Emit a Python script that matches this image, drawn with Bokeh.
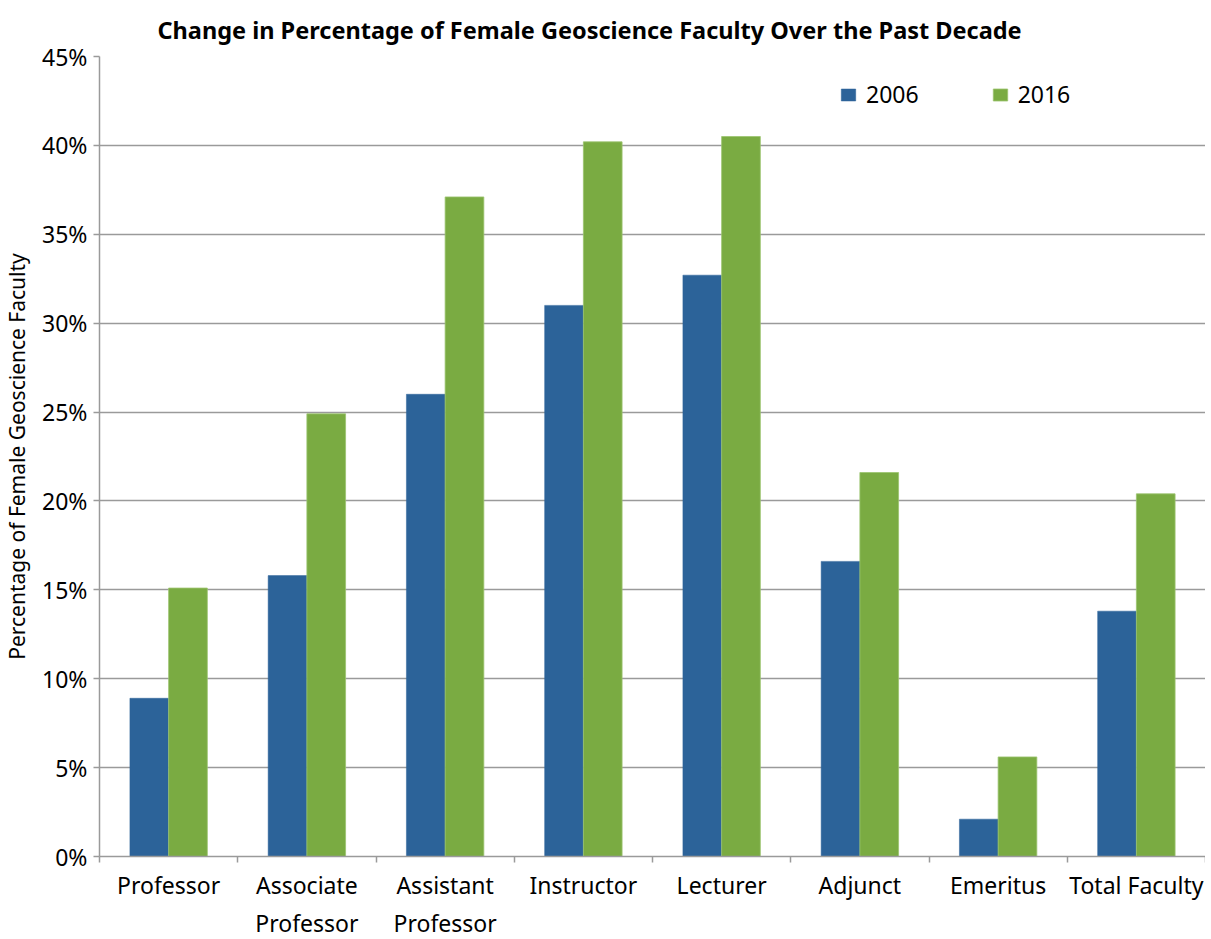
from bokeh.plotting import figure
from bokeh.models import (ColumnDataSource, Range1d, FixedTicker, LinearAxis, Title,
                          Legend, LegendItem, NumeralTickFormatter, Grid)
from bokeh.transform import dodge
from bokeh.embed import file_html
from bokeh.resources import INLINE

categories = ["Professor", "Associate\nProfessor", "Assistant\nProfessor", "Instructor",
              "Lecturer", "Adjunct", "Emeritus", "Total Faculty"]
series_names = ["2006", "2016"]
values_2006 = [8.9, 15.8, 26.0, 31.0, 32.7, 16.6, 2.1, 13.8]
values_2016 = [15.1, 24.9, 37.1, 40.2, 40.5, 21.6, 5.6, 20.4]
y_ticks = [0, 5, 10, 15, 20, 25, 30, 35, 40, 45]

BLUE = "#2C6399"
GREEN = "#7AAB42"
GRID = "#9A9A9A"
FONT = "Noto Sans"

n = len(categories)
centers = [i + 0.5 for i in range(n)]
src = ColumnDataSource(dict(x=centers, cat=categories,
                            v2006=[v / 100 for v in values_2006],
                            v2016=[v / 100 for v in values_2016]))

FH = 800
p = figure(frame_width=1106, frame_height=FH, output_backend="svg", toolbar_location=None,
           x_range=Range1d(0, n), y_range=Range1d(0, 0.45),
           min_border_left=98, min_border_top=56, min_border_right=0, min_border_bottom=2,
           x_axis_type=None, y_axis_type=None)
p.outline_line_color = None
p.background_fill_color = "white"

bw = 0.28
r1 = p.vbar(x=dodge("x", -bw / 2, range=p.x_range), top="v2006", width=bw, bottom=0,
            source=src, fill_color=BLUE, line_color=BLUE, line_width=0.5)
r2 = p.vbar(x=dodge("x", bw / 2, range=p.x_range), top="v2016", width=bw, bottom=0,
            source=src, fill_color=GREEN, line_color="#9CC46E", line_width=0.8)

# y axis
yax = LinearAxis(ticker=FixedTicker(ticks=[t / 100 for t in y_ticks]),
                 formatter=NumeralTickFormatter(format="0%"))
yax.axis_label = "Percentage of Female Geoscience Faculty"
yax.axis_label_text_font = FONT
yax.axis_label_text_font_style = "normal"
yax.axis_label_text_font_size = "21px"
yax.axis_label_text_color = "black"
yax.axis_label_standoff = 8
yax.major_label_text_font = FONT
yax.major_label_text_font_size = "23px"
yax.major_label_text_color = "black"
yax.major_label_standoff = 6
yax.major_tick_out = 6
yax.major_tick_in = 0
yax.minor_tick_out = 0
yax.minor_tick_in = 0
yax.axis_line_color = GRID
yax.axis_line_width = 1.5
yax.major_tick_line_color = GRID
yax.major_tick_line_width = 1.5
p.add_layout(yax, "left")

# x axis: labels at centers, ticks at category boundaries (minor ticks)
xax = LinearAxis(ticker=FixedTicker(ticks=centers, minor_ticks=list(range(n + 1))))
xax.major_label_overrides = {c: lab for c, lab in zip(centers, categories)}
xax.major_label_text_font = FONT
xax.major_label_text_font_size = "23px"
xax.major_label_text_color = "black"
xax.major_label_standoff = 6
xax.major_tick_out = 0
xax.major_tick_in = 0
xax.minor_tick_out = 6
xax.minor_tick_in = 0
xax.minor_tick_line_color = GRID
xax.minor_tick_line_width = 1.5
xax.axis_line_color = GRID
xax.axis_line_width = 1.5
p.add_layout(xax, "below")

g = Grid(dimension=1, ticker=yax.ticker, grid_line_color=GRID, grid_line_width=1.5)
p.add_layout(g)

t = Title(text="Change in Percentage of Female Geoscience Faculty Over the Past Decade",
          align="left", offset=58, text_font=FONT, text_font_style="bold",
          text_font_size="23.5px", text_color="black", standoff=22)
p.add_layout(t, "above")

legend = Legend(items=[LegendItem(label=series_names[0], renderers=[r1]),
                       LegendItem(label=series_names[1], renderers=[r2])],
                orientation="horizontal", location=(740, FH - 54),
                glyph_width=18, glyph_height=15, label_height=15,
                label_text_font=FONT, label_text_font_size="23px",
                label_text_color="black",
                label_standoff=9, spacing=72, padding=0, margin=0,
                border_line_color=None, background_fill_alpha=0)
p.add_layout(legend, "center")

open("out.html", "w").write(file_html(p, INLINE))
